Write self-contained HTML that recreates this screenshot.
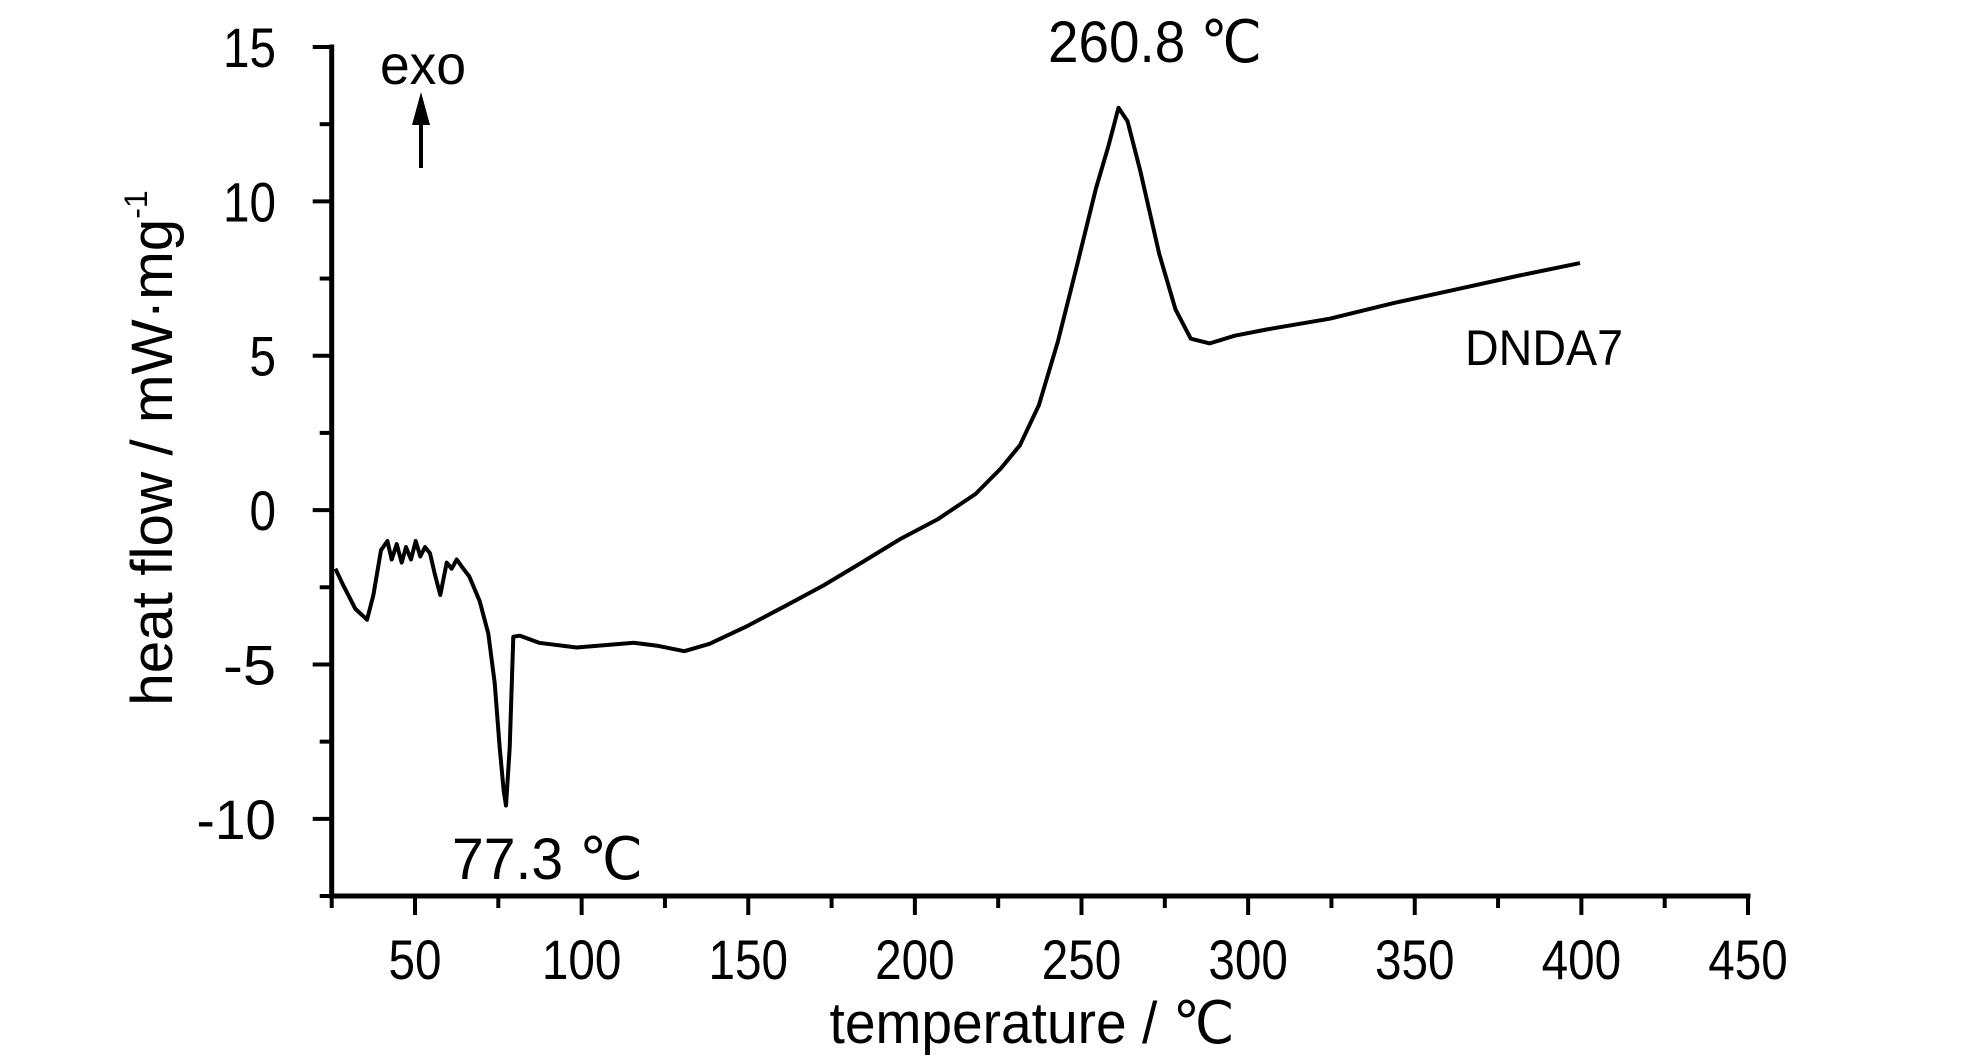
<!DOCTYPE html>
<html><head><meta charset="utf-8"><style>
html,body{margin:0;padding:0;background:#fff;}
svg{display:block;font-family:"Liberation Sans",sans-serif;}
</style></head><body>
<svg id="chart" width="1984" height="1062" viewBox="0 0 1984 1062" xmlns="http://www.w3.org/2000/svg">
<g id="axes"></g>
<path id="curve" fill="none" stroke="#000" stroke-width="4" stroke-linejoin="round"></path>
<text transform="translate(172,448) rotate(-90)" text-anchor="middle" font-size="58"><tspan textLength="487" lengthAdjust="spacingAndGlyphs">heat flow / mW·mg</tspan><tspan font-size="32" dy="-25">-1</tspan></text>
<text x="1032" y="1043" text-anchor="middle" font-size="58" textLength="405" lengthAdjust="spacingAndGlyphs">temperature / ℃</text>
<text x="380" y="84" font-size="56" textLength="86" lengthAdjust="spacingAndGlyphs">exo</text>
<g>
<line x1="421" y1="168" x2="421" y2="110" stroke="#000" stroke-width="4"/>
<polygon points="421,92 412,125 430,125" fill="#000"/>
</g>
<text x="1155" y="62" text-anchor="middle" font-size="58" textLength="214" lengthAdjust="spacingAndGlyphs">260.8 ℃</text>
<text x="452" y="879" font-size="58" textLength="191" lengthAdjust="spacingAndGlyphs">77.3 ℃</text>
<text x="1465" y="365" font-size="50" textLength="158" lengthAdjust="spacingAndGlyphs">DNDA7</text>
</svg>
<script>
const temps=[26.1,28.3,32.1,35.6,37.5,39.8,41.7,43,44.5,46,47.3,48.8,50.2,51.6,53,54.5,56,57.6,59.5,61,62.5,64.5,66.3,69.4,72,73.9,75.4,76.6,77.3,78.4,79.5,81.5,87.2,98.5,115.7,123,130.8,138.4,149.8,161.2,172.6,184,195.4,206.8,218.2,225.8,231.5,237.2,242.9,248.6,254.3,258.1,261.1,263.8,267.6,273.3,278.2,282.8,288.5,296,305.5,324.5,343.5,362.4,381.4,399.6];
const heatFlow=[-1.9,-2.4,-3.2,-3.55,-2.75,-1.3,-1.0,-1.6,-1.1,-1.7,-1.2,-1.6,-1.0,-1.5,-1.2,-1.4,-2.1,-2.75,-1.7,-1.9,-1.6,-1.9,-2.15,-2.95,-4.0,-5.6,-7.7,-9.1,-9.57,-7.7,-4.1,-4.07,-4.3,-4.45,-4.3,-4.4,-4.57,-4.33,-3.75,-3.1,-2.44,-1.7,-0.95,-0.3,0.52,1.35,2.1,3.4,5.45,7.9,10.4,11.8,13.03,12.6,11.0,8.3,6.5,5.55,5.4,5.65,5.85,6.2,6.7,7.15,7.6,8.0];
const xTicks=[50,100,150,200,250,300,350,400,450];
const yTicks=[15,10,5,0,-5,-10];
const xMin=25,xMax=450,yMin=-12.5,yMax=15;
const L=331.7,R=1748,T=47,B=896;
function sx(v){return L+(v-xMin)/(xMax-xMin)*(R-L);}
function sy(v){return B-(v-yMin)/(yMax-yMin)*(B-T);}
const NS="http://www.w3.org/2000/svg";
const ax=document.getElementById('axes');
function ln(x1,y1,x2,y2,w,name){const e=document.createElementNS(NS,'line');e.setAttribute('x1',x1);e.setAttribute('y1',y1);e.setAttribute('x2',x2);e.setAttribute('y2',y2);e.setAttribute('stroke','#000');e.setAttribute('stroke-width',w);e.setAttribute('stroke-linecap','square');


ax.appendChild(e);}
function tx(x,y,s,anchor,name){const e=document.createElementNS(NS,'text');e.setAttribute('x',x);e.setAttribute('y',y);e.setAttribute('text-anchor',anchor);e.setAttribute('font-size','56');
e.setAttribute('textLength',String(s.length*26.5));e.setAttribute('lengthAdjust','spacingAndGlyphs');e.textContent=s;


ax.appendChild(e);}
ln(L,T,L,B,5,'y-axis-line');
ln(L,B,R,B,5,'x-axis-line');
for(let v=xMin;v<=xMax;v+=25){const major=v%50===0;ln(sx(v),B,sx(v),B+(major?17:10),4,major?'x-major-tick':'x-minor-tick');}
for(let v=yMin;v<=yMax;v+=2.5){const major=v%5===0;ln(L,sy(v),L-(major?17:10),sy(v),4,major?'y-major-tick':'y-minor-tick');}
xTicks.forEach(v=>tx(sx(v),979,String(v),'middle','x-tick-label'));
yTicks.forEach(v=>tx(276,sy(v)+20,String(v),'end','y-tick-label'));
let d='';
temps.forEach((t,i)=>{d+=(i?'L':'M')+sx(t).toFixed(1)+','+sy(heatFlow[i]).toFixed(1);});
document.getElementById('curve').setAttribute('d',d);
</script>
</body></html>
